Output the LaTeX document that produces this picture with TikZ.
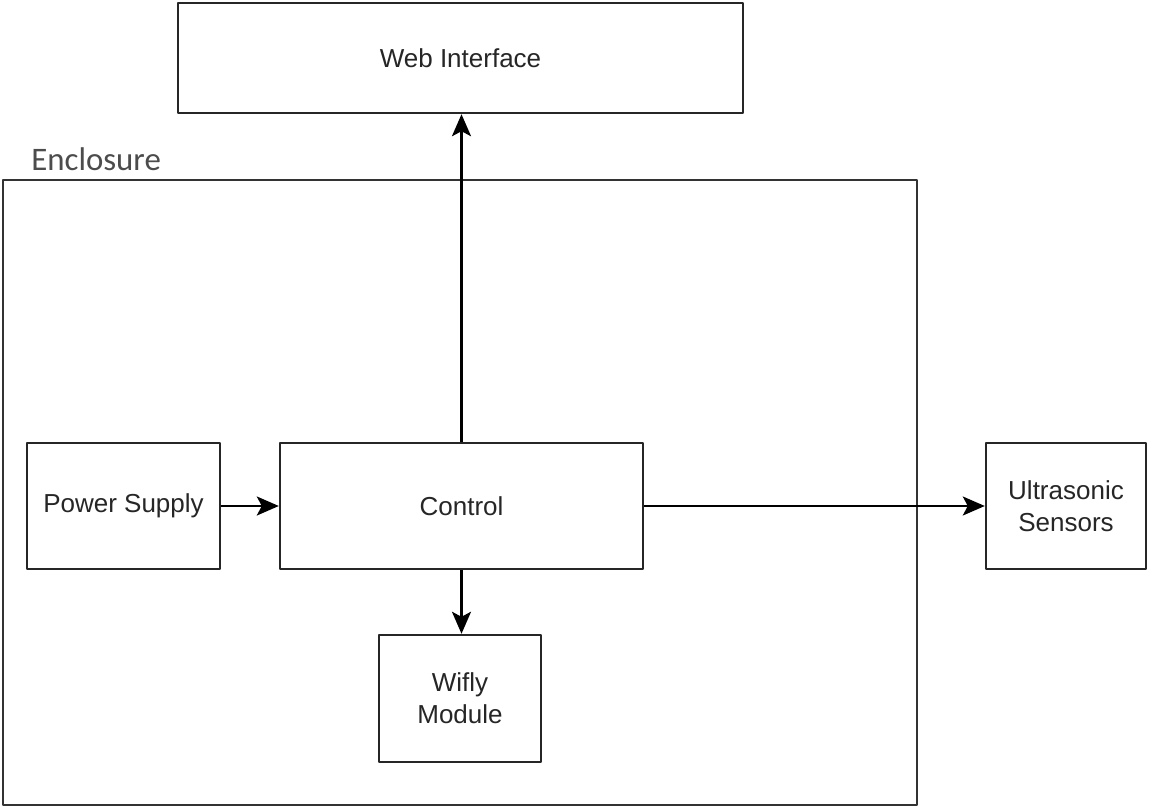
\documentclass[tikz,border=0pt]{standalone}
\usepackage{fontspec}
\setmainfont{Liberation Sans}
\newfontfamily\labelfont{Carlito}
\usetikzlibrary{arrows.meta}
\tikzset{
  block/.style={draw=black!85, line width=1.4pt, fill=white, align=center, text=black!85, inner sep=2pt},
  link/.style={line width=1.3pt, -{Stealth[length=0.44cm,width=0.38cm,inset=0.1cm]}}
}
\begin{document}
\begin{tikzpicture}[x=0.02cm, y=-0.02cm, font=\fontsize{14.8}{18}\selectfont, line join=round]
			\useasboundingbox (0,0) rectangle (1149,807);
			% enclosure
			\draw[line width=1.6pt, draw=black!80] (3,180) rectangle (917,805);
			\node[anchor=base west, inner sep=0pt, text=black!70, font=\labelfont\fontsize{18.7}{22}\selectfont] (encl) at (31,171) {Enclosure};
			% blocks
			\node[block, minimum width=11.3cm, minimum height=2.2cm] (web) at (460.5,58) {Web Interface};
			\node[block, minimum width=3.86cm, minimum height=2.52cm] (power) at (123.5,506) {Power Supply};
			\node[block, minimum width=7.26cm, minimum height=2.52cm] (ctrl) at (461.5,506) {Control};
			\node[block, minimum width=3.24cm, minimum height=2.54cm] (wifly) at (460,698.5) {Wifly\\Module};
			\node[block, minimum width=3.2cm, minimum height=2.52cm] (sensors) at (1066,506) {Ultrasonic\\Sensors};
			% links
			\draw[link] (ctrl.north) -- (ctrl.north |- web.south);
			\draw[link] (power.east) -- (ctrl.west);
			\draw[link] (ctrl.east) -- (sensors.west);
			\draw[link] (ctrl.south) -- (ctrl.south |- wifly.north);
		\end{tikzpicture}
\end{document}
